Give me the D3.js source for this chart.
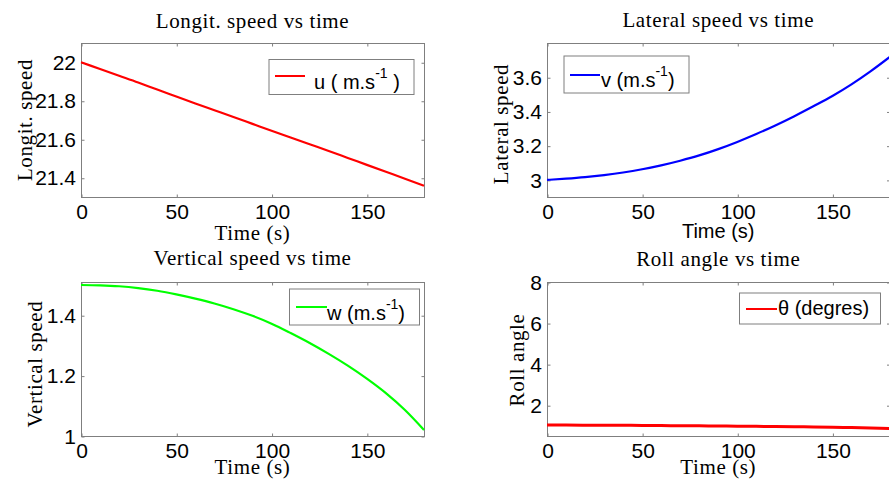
<!DOCTYPE html>
<html>
<head>
<meta charset="utf-8">
<script src="https://cdn.jsdelivr.net/npm/d3@7"></script>
<style>
  body { margin: 0; background: #fff; }
  svg { display: block; }
  .serif { font-family: "Liberation Serif", "Times New Roman", serif; font-size: 21px; letter-spacing: 0.6px; fill: #000; }
  .sans { font-family: "Liberation Sans", Arial, sans-serif; fill: #000; }
</style>
</head>
<body>
<div id="chart"></div>
<script>
// Values (time in s)
const time = [0, 10, 20, 30, 40, 50, 60, 70, 80, 90, 100, 110, 120, 130, 140, 150, 160, 170, 180];
const uSpeed = [22.000, 21.965, 21.930, 21.895, 21.858, 21.822, 21.786, 21.751, 21.716, 21.680, 21.644,
                21.609, 21.574, 21.539, 21.503, 21.467, 21.431, 21.395, 21.358];
const vSpeed = [3.000, 3.007, 3.016, 3.028, 3.043, 3.062, 3.085, 3.112, 3.143, 3.180, 3.222,
                3.268, 3.318, 3.372, 3.430, 3.490, 3.558, 3.634, 3.717];
const wSpeed = [1.500, 1.499, 1.496, 1.490, 1.481, 1.469, 1.455, 1.439, 1.420, 1.398, 1.372,
                1.341, 1.308, 1.272, 1.233, 1.190, 1.142, 1.086, 1.020];
const rollAngle = [1.03, 1.03, 1.025, 1.02, 1.02, 1.015, 1.01, 1.0, 0.995, 0.99, 0.98,
                   0.97, 0.96, 0.95, 0.94, 0.93, 0.91, 0.89, 0.87];

const timeTicks = [0, 50, 100, 150];
const uTicks = [21.4, 21.6, 21.8, 22];
const vTicks = [3, 3.2, 3.4, 3.6];
const wTicks = [1, 1.2, 1.4];
const rollTicks = [2, 4, 6, 8];

const width = 889, height = 486;
const axisColor = '#7f7f7f';

const panels = [
  {
    title: 'Longit. speed vs time', ylabel: 'Longit. speed', xlabel: 'Time (s)', xlabelSans: false,
    values: uSpeed, yDomain: [21.3, 22.1], yTicks: uTicks, color: '#ff0000', lineWidth: 2.2,
    frame: { l: 81, r: 424, t: 43, b: 197 },
    titleY: 28, xlabelY: 240, ylabelX: 31.5, ylabelY: 120,
    legend: { x: 269, y: 59.5, w: 145, h: 35, lx1: 275, lx2: 305, ly: 76, tx: 314, ty: 89,
              parts: ['u ( m.s', '-1', ' )'] }
  },
  {
    title: 'Lateral speed vs time', ylabel: 'Lateral speed', xlabel: 'Time (s)', xlabelSans: true,
    values: vSpeed, yDomain: [2.9, 3.8], yTicks: vTicks, color: '#0000ff', lineWidth: 2.2,
    frame: { l: 547, r: 889.5, t: 43, b: 197 },
    titleY: 27, xlabelY: 238, ylabelX: 508, ylabelY: 124,
    legend: { x: 564, y: 56, w: 125, h: 37, lx1: 570, lx2: 600, ly: 75, tx: 601, ty: 87,
              parts: ['v (m.s', '-1', ')'] }
  },
  {
    title: 'Vertical speed vs time', ylabel: 'Vertical speed', xlabel: 'Time (s)', xlabelSans: false,
    values: wSpeed, yDomain: [1, 1.51], yTicks: wTicks, color: '#00ff00', lineWidth: 2.2,
    frame: { l: 81, r: 424, t: 282, b: 436 },
    titleY: 265, xlabelY: 474, ylabelX: 41.5, ylabelY: 364,
    legend: { x: 289.5, y: 289, w: 130, h: 36, lx1: 296, lx2: 327, ly: 307, tx: 327, ty: 320,
              parts: ['w (m.s', '-1', ')'] }
  },
  {
    title: 'Roll angle vs time', ylabel: 'Roll angle', xlabel: 'Time (s)', xlabelSans: false,
    values: rollAngle, yDomain: [0.5, 8], yTicks: rollTicks, color: '#ff0000', lineWidth: 3,
    frame: { l: 547, r: 889.5, t: 282, b: 436 },
    titleY: 266, xlabelY: 474, ylabelX: 524, ylabelY: 360,
    legend: { x: 739.5, y: 293, w: 141, h: 31, lx1: 746, lx2: 777, ly: 309, tx: 778, ty: 314.5,
              parts: ['θ (degres)'] }
  }
];

const svg = d3.select('#chart').append('svg')
  .attr('width', width)
  .attr('height', height)
  .attr('viewBox', `0 0 ${width} ${height}`);

svg.append('rect').attr('width', width).attr('height', height).attr('fill', '#fff');

const fmt = d => String(+d.toFixed(2));

panels.forEach(p => {
  const f = p.frame;
  const x = d3.scaleLinear().domain([0, 180]).range([f.l, f.r]);
  const y = d3.scaleLinear().domain(p.yDomain).range([f.b, f.t]);
  const g = svg.append('g');

  // frame
  g.append('rect')
    .attr('x', f.l + 0.5).attr('y', f.t + 0.5)
    .attr('width', f.r - f.l).attr('height', f.b - f.t)
    .attr('fill', 'none').attr('stroke', axisColor).attr('stroke-width', 1);

  // inward ticks on all four sides
  const tick = 3;
  const addTicks = (axis, tx, ty) => {
    const a = g.append('g').attr('transform', `translate(${tx},${ty})`).call(axis);
    a.select('.domain').remove();
    a.selectAll('line').attr('stroke', axisColor);
  };
  addTicks(d3.axisBottom(x).tickValues(timeTicks).tickSize(-tick).tickFormat(''), 0.5, f.b + 0.5);
  addTicks(d3.axisTop(x).tickValues(timeTicks).tickSize(-tick).tickFormat(''), 0.5, f.t + 0.5);
  addTicks(d3.axisLeft(y).tickValues(p.yTicks).tickSize(-tick).tickFormat(''), f.l + 0.5, 0.5);
  addTicks(d3.axisRight(y).tickValues(p.yTicks).tickSize(-tick).tickFormat(''), f.r + 0.5, 0.5);

  // tick labels
  const xl = g.append('g').attr('transform', `translate(0.5,${f.b})`)
    .call(d3.axisBottom(x).tickValues(timeTicks).tickSize(0).tickPadding(7).tickFormat(fmt));
  xl.select('.domain').remove();
  xl.selectAll('text').attr('class', 'sans').style('font-size', '21px').attr('font-family', null);

  const yl = g.append('g').attr('transform', `translate(${f.l - 1},0.5)`)
    .call(d3.axisLeft(y).tickValues(p.yTicks).tickSize(0).tickPadding(4).tickFormat(fmt));
  yl.select('.domain').remove();
  yl.selectAll('text').attr('class', 'sans').style('font-size', '21px').attr('font-family', null);

  // data line
  const line = d3.line()
    .curve(d3.curveMonotoneX)
    .x((d, i) => x(time[i]))
    .y(d => y(d));
  g.append('path')
    .datum(p.values)
    .attr('d', line)
    .attr('fill', 'none')
    .attr('stroke', p.color)
    .attr('stroke-width', p.lineWidth);

  // title and labels
  const cx = (f.l + f.r) / 2;
  g.append('text').attr('class', 'serif')
    .attr('x', cx).attr('y', p.titleY)
    .attr('text-anchor', 'middle').text(p.title);

  if (p.xlabelSans) {
    g.append('text').attr('class', 'sans').style('font-size', '20px')
      .attr('x', cx).attr('y', p.xlabelY)
      .attr('text-anchor', 'middle').text(p.xlabel);
  } else {
    g.append('text').attr('class', 'serif')
      .attr('x', cx).attr('y', p.xlabelY)
      .attr('text-anchor', 'middle').text(p.xlabel);
  }

  g.append('text').attr('class', 'serif')
    .attr('transform', `translate(${p.ylabelX},${p.ylabelY}) rotate(-90)`)
    .attr('text-anchor', 'middle').text(p.ylabel);

  // legend
  const L = p.legend;
  g.append('rect')
    .attr('x', L.x).attr('y', L.y).attr('width', L.w).attr('height', L.h)
    .attr('fill', '#fff').attr('stroke', axisColor).attr('stroke-width', 1);
  g.append('line')
    .attr('x1', L.lx1).attr('x2', L.lx2).attr('y1', L.ly).attr('y2', L.ly)
    .attr('stroke', p.color).attr('stroke-width', 2);
  const lt = g.append('text').attr('class', 'sans').style('font-size', '20px')
    .attr('x', L.tx).attr('y', L.ty);
  L.parts.forEach((s, i) => {
    const ts = lt.append('tspan').text(s);
    if (i === 1) ts.attr('dy', -11).style('font-size', '14px');
    if (i === 2) ts.attr('dy', 11);
  });
});
</script>
</body>
</html>
